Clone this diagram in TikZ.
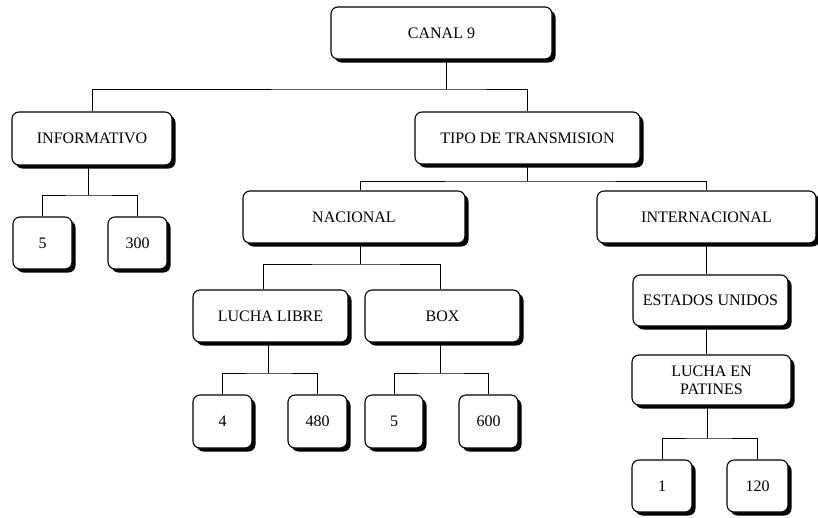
\documentclass[tikz,border=0pt]{standalone}
\usepackage{fontspec}
\setmainfont{Liberation Serif}
\usetikzlibrary{shadows}
\begin{document}
\begin{tikzpicture}[x=1pt,y=-1pt,
  orgbox/.style={draw=black, line width=1.1pt, fill=white, rounded corners=7pt,
    drop shadow={shadow xshift=3.5pt, shadow yshift=-3.5pt, fill=black, opacity=1},
    inner sep=2pt, align=center, font=\fontsize{16}{18}\selectfont},
  link/.style={draw=black, line width=0.9pt}]
\useasboundingbox (0,0) rectangle (818,517);
\fill[white] (0,0) rectangle (818,517);
% nodes
\node[orgbox, minimum width=221pt, minimum height=52pt] (canal) at (441.5,33) {CANAL 9};
\node[orgbox, minimum width=160pt, minimum height=53pt] (info) at (92,138.5) {INFORMATIVO};
\node[orgbox, minimum width=225pt, minimum height=52pt] (tipo) at (527.5,138) {TIPO DE TRANSMISION};
\node[orgbox, minimum width=59pt, minimum height=52pt] (i5) at (42.5,243) {5};
\node[orgbox, minimum width=59pt, minimum height=52pt] (i300) at (137.5,243) {300};
\node[orgbox, minimum width=222pt, minimum height=52pt] (nac) at (354,217) {NACIONAL};
\node[orgbox, minimum width=219pt, minimum height=52pt] (inter) at (706.5,217) {INTERNACIONAL};
\node[orgbox, minimum width=155pt, minimum height=52pt] (lucha) at (270.5,316) {LUCHA LIBRE};
\node[orgbox, minimum width=155pt, minimum height=52pt] (boxn) at (442.5,316) {BOX};
\node[orgbox, minimum width=59pt, minimum height=53pt] (n4) at (222.5,421.5) {4};
\node[orgbox, minimum width=59pt, minimum height=53pt] (n480) at (317.5,421.5) {480};
\node[orgbox, minimum width=58pt, minimum height=53pt] (n5) at (394,421.5) {5};
\node[orgbox, minimum width=59pt, minimum height=53pt] (n600) at (488.5,421.5) {600};
\node[orgbox, minimum width=155pt, minimum height=51pt] (eu) at (710.5,300.5) {ESTADOS UNIDOS};
\node[orgbox, minimum width=159pt, minimum height=50pt] (lep) at (711.5,380) {LUCHA EN\\PATINES};
\node[orgbox, minimum width=60pt, minimum height=52pt] (one) at (662,486) {1};
\node[orgbox, minimum width=61pt, minimum height=52pt] (o120) at (757.5,486) {120};
% connectors
\coordinate (b1) at (446,89);
\draw[link] (b1 |- canal.south) -- (b1);
\draw[link] (info.north) |- (b1) -| (tipo.north);
\coordinate (b2) at (88,195);
\draw[link] (b2 |- info.south) -- (b2);
\draw[link] (i5.north) |- (b2) -| (i300.north);
\coordinate (b3) at (527,181);
\draw[link] (b3 |- tipo.south) -- (b3);
\draw[link] (b3 -| nac.north) ++(6,0) coordinate (nacin) (nacin |- nac.north) -- (nacin) -- (b3) -| (inter.north);
\coordinate (b4) at (360,264);
\draw[link] (b4 |- nac.south) -- (b4);
\draw[link] ([xshift=-7.5pt]lucha.north) |- (b4) -| ([xshift=-2.5pt]boxn.north);
\coordinate (b5) at (268,373);
\draw[link] (b5 |- lucha.south) -- (b5);
\draw[link] (n4.north) |- (b5) -| (n480.north);
\coordinate (b6) at (440,373);
\draw[link] (b6 |- boxn.south) -- (b6);
\draw[link] (n5.north) |- (b6) -| (n600.north);
\draw[link] (inter.south) -- (inter.south |- eu.north);
\draw[link] (inter.south |- eu.south) -- (inter.south |- lep.north);
\coordinate (b7) at (707,438);
\draw[link] (b7 |- lep.south) -- (b7);
\draw[link] (one.north) |- (b7) -| (o120.north);
\end{tikzpicture}
\end{document}
